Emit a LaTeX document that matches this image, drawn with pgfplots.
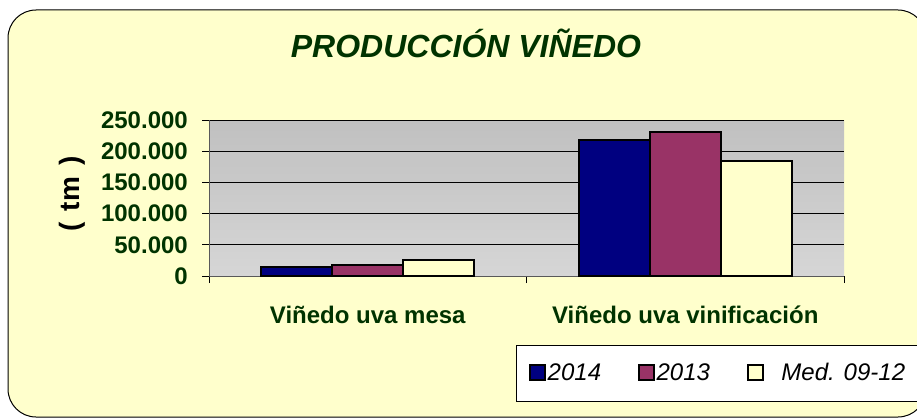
\documentclass[border=0pt]{standalone}
\usepackage{pgfplots}
\pgfplotsset{compat=1.18}
\usepackage{fontspec}
\setmainfont{Liberation Sans}
\definecolor{bgy}{HTML}{FFFFCC}
\definecolor{dgreen}{HTML}{003300}
\definecolor{navyb}{HTML}{000080}
\definecolor{plum}{HTML}{993366}
\definecolor{gtop}{HTML}{C0C0C0}
\definecolor{gbot}{HTML}{D6D6D6}
\begin{document}
\begin{tikzpicture}[x=1bp,y=1bp]
\useasboundingbox (0,0) rectangle (917,419);
\draw[fill=bgy, draw=black, line width=1bp, rounded corners=28bp] (8,2) rectangle (926,409);
\node[anchor=base, font=\fontsize{32bp}{38bp}\selectfont\bfseries\itshape, text=dgreen] at (466,362) {PRODUCCIÓN VIÑEDO};
\node[rotate=90, font=\fontsize{28bp}{32bp}\selectfont\bfseries, text=black] at (72.5,225) {(\hspace{11bp}tm\hspace{11bp})};
\draw[fill=white, draw=black, line width=0.8bp] (516,18) rectangle (940,74);
\begin{axis}[
  at={(209bp,143bp)}, anchor=south west,
  scale only axis, width=635bp, height=156bp,
  xmin=0, xmax=2, ymin=0, ymax=250000,
  ybar=0pt, bar width=71bp,
  axis background/.style={shade, top color=gtop, bottom color=gbot},
  axis x line*=bottom, axis y line*=left,
  axis line style={draw=gray!70!black, line width=1bp},
  tick align=outside, major tick length=7bp,
  tick style={black, line width=0.8bp},
  ymajorgrids, grid style={black, line width=0.8bp},
  ytick={0,50000,100000,150000,200000,250000},
  yticklabels={0,50.000,100.000,150.000,200.000,250.000},
  scaled y ticks=false,
  xtick={0,1,2}, xticklabels={},
  extra x ticks={0.5,1.5},
  extra x tick labels={Viñedo uva mesa,Viñedo uva vinificación},
  extra x tick style={tick style={draw=none}},
  ticklabel style={font=\fontsize{24bp}{28bp}\selectfont\bfseries, text=dgreen},
  yticklabel style={anchor=east, inner sep=0pt, xshift=-14bp},
  xticklabel style={anchor=base, yshift=-40bp},
  legend columns=3,
  legend style={at={(0.504,-0.622)}, anchor=west, draw=none, fill=none, inner sep=0pt,
    font=\fontsize{24bp}{28bp}\selectfont\itshape,
    /tikz/every even column/.append style={column sep=35bp}},
  legend image code/.code={\draw[#1, draw=black, line width=1.5bp] (0bp,-7bp) rectangle (15bp,8bp);},
]
\addplot[fill=navyb, draw=black, line width=2bp] coordinates {(0.5,14800) (1.5,218000)};
\addplot[fill=plum, draw=black, line width=2bp] coordinates {(0.5,18000) (1.5,230400)};
\addplot[fill=bgy, draw=black, line width=2bp] coordinates {(0.5,26100) (1.5,183700)};
\legend{2014,2013,\hspace{16bp}Med. 09-12}
\end{axis}
\end{tikzpicture}
\end{document}
